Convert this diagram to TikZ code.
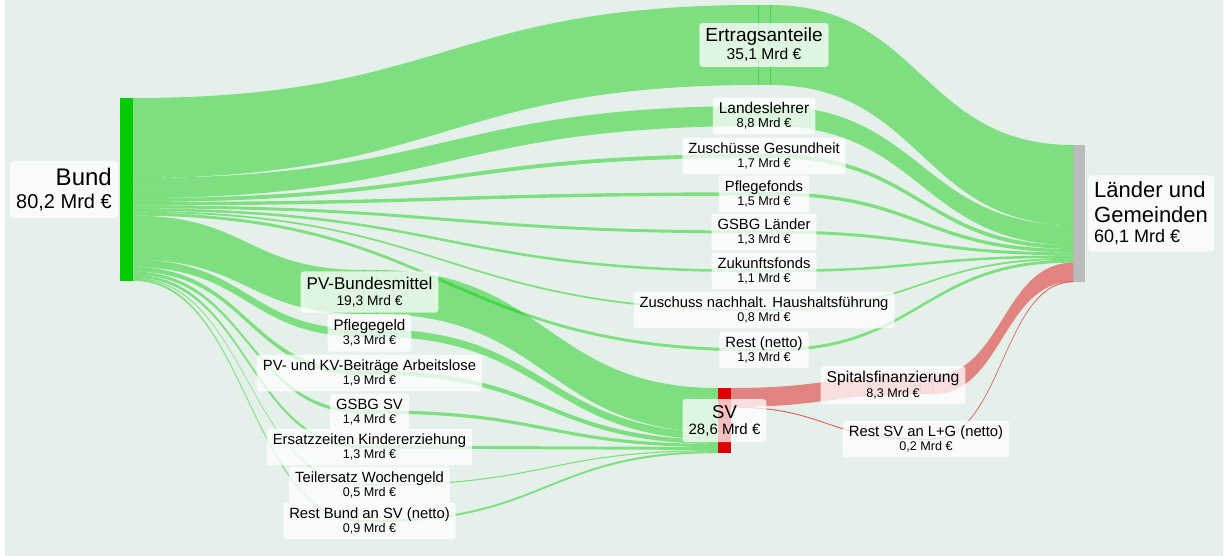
\documentclass[tikz,border=0pt]{standalone}
\usepackage{fontspec}
\setmainfont{Liberation Sans}
\usetikzlibrary{calc}
\definecolor{bgcol}{HTML}{E6F0EA}
\definecolor{bundgreen}{HTML}{00CC00}
\definecolor{svred}{HTML}{DD0000}
\definecolor{lggrey}{HTML}{BBBBBB}
\def\mrd{2.28}% px per Mrd
\tikzset{
  bar/.style={rectangle, inner sep=0pt, outer sep=0pt, minimum width=13pt},
  via/.style={rectangle, inner sep=0pt, outer sep=0pt, minimum width=12pt, fill opacity=.45},
  viaedge/.style={draw opacity=.45, line width=.6pt},
  gflow/.style={fill=bundgreen, fill opacity=.45},
  rflow/.style={fill=svred, fill opacity=.45},
  thinflow/.style={draw=svred, draw opacity=.45, line width=.5pt},
  lab/.style={fill=white, fill opacity=.75, text opacity=1, rounded corners=3pt,
    inner xsep=6pt, inner ysep=5pt, align=center, font=\fontsize{12.6}{14.5}\selectfont},
}
% source, offset at source, target, offset at target, value, style
\newcommand{\flow}[6]{%
  \path ($(#1.north east)+(0,#2*\mrd)$) coordinate (f0)
        ($(#3.north west)+(0,#4*\mrd)$) coordinate (f1)
        ($(f0)!.5!(f1)$) coordinate (fm)
        ($(f0)+(0,#5*\mrd)$) coordinate (g0)
        ($(f1)+(0,#5*\mrd)$) coordinate (g1);
  \fill[#6] (f0) .. controls (fm|-f0) and (fm|-f1) .. (f1) -- (g1)
    .. controls (fm|-g1) and (fm|-g0) .. (g0) -- cycle;}
\newcommand{\nv}[3][14.8]{{\fontsize{#1}{#1}\selectfont #2}\\#3}
\begin{document}
\begin{tikzpicture}[x=1pt, y=-1pt]
  \useasboundingbox (0,0) rectangle (1231,556);
  \fill[bgcol] (5,0) rectangle (1223,556);

  % main nodes
  \node[bar, fill=bundgreen, anchor=north west, minimum height={80.2*\mrd*1pt}] (bund) at (120,98) {};
  \node[bar, fill=lggrey, minimum width=12pt, anchor=north west, minimum height={60.1*\mrd*1pt}] (laender) at (1073,145) {};
  \node[bar, fill=svred, anchor=north west, minimum height={28.6*\mrd*1pt}] (sv) at (718,388) {};

  % pass-through nodes, Länder side
  \node[via, fill=bundgreen, anchor=west, minimum height={35.1*\mrd*1pt}] (ertrag) at (758,45) {};
  \node[via, fill=bundgreen, anchor=west, minimum height={8.8*\mrd*1pt}] (lehrer) at (758,116) {};
  \node[via, fill=bundgreen, anchor=west, minimum height={1.7*\mrd*1pt}] (gesund) at (758,156) {};
  \node[via, fill=bundgreen, anchor=west, minimum height={1.5*\mrd*1pt}] (pfonds) at (758,194) {};
  \node[via, fill=bundgreen, anchor=west, minimum height={1.3*\mrd*1pt}] (gsbgl) at (758,232) {};
  \node[via, fill=bundgreen, anchor=west, minimum height={1.1*\mrd*1pt}] (zfonds) at (758,271) {};
  \node[via, fill=bundgreen, anchor=west, minimum height={0.8*\mrd*1pt}] (hhf) at (758,310) {};
  \node[via, fill=bundgreen, anchor=west, minimum height={1.3*\mrd*1pt}] (restl) at (758,350) {};

  % pass-through nodes, SV side
  \node[via, fill=bundgreen, minimum width=13pt, anchor=west, minimum height={19.3*\mrd*1pt}] (pvb) at (363,292) {};
  \node[via, fill=bundgreen, minimum width=13pt, anchor=west, minimum height={3.3*\mrd*1pt}] (pgeld) at (363,333) {};
  \node[via, fill=bundgreen, minimum width=13pt, anchor=west, minimum height={1.9*\mrd*1pt}] (pvkv) at (363,373) {};
  \node[via, fill=bundgreen, minimum width=13pt, anchor=west, minimum height={1.4*\mrd*1pt}] (gsbgsv) at (363,412) {};
  \node[via, fill=bundgreen, minimum width=13pt, anchor=west, minimum height={1.3*\mrd*1pt}] (ersatz) at (363,447) {};
  \node[via, fill=bundgreen, minimum width=13pt, anchor=west, minimum height={0.5*\mrd*1pt}] (wgeld) at (363,485) {};
  \node[via, fill=bundgreen, minimum width=13pt, anchor=west, minimum height={0.9*\mrd*1pt}] (restb) at (363,521) {};

  % SV to Länder
  \node[via, fill=svred, anchor=west, minimum height={8.3*\mrd*1pt}] (spital) at (920,385) {};
  \node[via, fill=svred, anchor=west, minimum height={0.2*\mrd*1pt}] (restsv) at (920,439) {};

  \foreach \n in {ertrag,lehrer,gesund,pfonds,gsbgl,zfonds,hhf,restl,pvb,pgeld,pvkv,gsbgsv,ersatz,wgeld,restb}
    \draw[viaedge, bundgreen] (\n.north west) -- (\n.south west) (\n.north east) -- (\n.south east);
  \foreach \n in {spital,restsv}
    \draw[viaedge, svred] (\n.north west) -- (\n.south west) (\n.north east) -- (\n.south east);

  % Bund
  \flow{bund}{0}{ertrag}{0}{35.1}{gflow}
  \flow{bund}{35.1}{lehrer}{0}{8.8}{gflow}
  \flow{bund}{43.9}{gesund}{0}{1.7}{gflow}
  \flow{bund}{45.6}{pfonds}{0}{1.5}{gflow}
  \flow{bund}{47.1}{gsbgl}{0}{1.3}{gflow}
  \flow{bund}{48.4}{zfonds}{0}{1.1}{gflow}
  \flow{bund}{49.5}{hhf}{0}{0.8}{gflow}
  \flow{bund}{50.3}{restl}{0}{1.3}{gflow}
  \flow{bund}{51.6}{pvb}{0}{19.3}{gflow}
  \flow{bund}{70.9}{pgeld}{0}{3.3}{gflow}
  \flow{bund}{74.2}{pvkv}{0}{1.9}{gflow}
  \flow{bund}{76.1}{gsbgsv}{0}{1.4}{gflow}
  \flow{bund}{77.5}{ersatz}{0}{1.3}{gflow}
  \flow{bund}{78.8}{wgeld}{0}{0.5}{gflow}
  \flow{bund}{79.3}{restb}{0}{0.9}{gflow}
  % into Länder
  \flow{ertrag}{0}{laender}{0}{35.1}{gflow}
  \flow{lehrer}{0}{laender}{35.1}{8.8}{gflow}
  \flow{gesund}{0}{laender}{43.9}{1.7}{gflow}
  \flow{pfonds}{0}{laender}{45.6}{1.5}{gflow}
  \flow{gsbgl}{0}{laender}{47.1}{1.3}{gflow}
  \flow{zfonds}{0}{laender}{48.4}{1.1}{gflow}
  \flow{hhf}{0}{laender}{49.5}{0.8}{gflow}
  \flow{restl}{0}{laender}{50.3}{1.3}{gflow}
  % into SV
  \flow{pvb}{0}{sv}{0}{19.3}{gflow}
  \flow{pgeld}{0}{sv}{19.3}{3.3}{gflow}
  \flow{pvkv}{0}{sv}{22.6}{1.9}{gflow}
  \flow{gsbgsv}{0}{sv}{24.5}{1.4}{gflow}
  \flow{ersatz}{0}{sv}{25.9}{1.3}{gflow}
  \flow{wgeld}{0}{sv}{27.2}{0.5}{gflow}
  \flow{restb}{0}{sv}{27.7}{0.9}{gflow}
  % out of SV
  \flow{sv}{0}{spital}{0}{8.3}{rflow}
  \flow{sv}{8.3}{restsv}{0}{0.2}{rflow, thinflow}
  \flow{spital}{0}{laender}{51.6}{8.3}{rflow}
  \flow{restsv}{0}{laender}{59.9}{0.2}{rflow, thinflow}

  % labels
  \node[lab, align=right, anchor=east, inner ysep=7pt, font=\fontsize{20}{23}\selectfont] (t-bund)
    at ([xshift=-2pt]bund.west) {\nv[24]{Bund}{80,2 Mrd €}};
  \node[lab, align=left, anchor=west, inner ysep=6.5pt, font=\fontsize{18}{20}\selectfont] (t-laender)
    at ([xshift=3pt]laender.east) {{\fontsize{22}{25}\selectfont Länder und}\\[5pt]{\fontsize{22}{25}\selectfont Gemeinden}\\60,1 Mrd €};
  \node[lab, inner ysep=6pt, font=\fontsize{15}{16}\selectfont] (t-sv) at (sv) {\nv[18.6]{SV}{28,6 Mrd €}};
  \node[lab, font=\fontsize{15.6}{18}\selectfont] (t-ertrag) at (ertrag) {\nv[19]{Ertragsanteile}{35,1 Mrd €}};
  \node[lab, font=\fontsize{13}{14}\selectfont] (t-lehrer) at (lehrer) {\nv[15.5]{Landeslehrer}{8,8 Mrd €}};
  \node[lab] (t-gesund) at (gesund) {\nv{Zuschüsse Gesundheit}{1,7 Mrd €}};
  \node[lab] (t-pfonds) at (pfonds) {\nv{Pflegefonds}{1,5 Mrd €}};
  \node[lab] (t-gsbgl) at (gsbgl) {\nv{GSBG Länder}{1,3 Mrd €}};
  \node[lab] (t-zfonds) at (zfonds) {\nv{Zukunftsfonds}{1,1 Mrd €}};
  \node[lab] (t-hhf) at (hhf) {\nv{Zuschuss nachhalt. Haushaltsführung}{0,8 Mrd €}};
  \node[lab] (t-restl) at (restl) {\nv{Rest (netto)}{1,3 Mrd €}};
  \node[lab, inner ysep=5.5pt, font=\fontsize{13.8}{16}\selectfont] (t-pvb) at (pvb) {\nv[17]{PV-Bundesmittel}{19,3 Mrd €}};
  \node[lab] (t-pgeld) at (pgeld) {\nv[15.2]{Pflegegeld}{3,3 Mrd €}};
  \node[lab] (t-pvkv) at (pvkv) {\nv{PV- und KV-Beiträge Arbeitslose}{1,9 Mrd €}};
  \node[lab] (t-gsbgsv) at (gsbgsv) {\nv{GSBG SV}{1,4 Mrd €}};
  \node[lab] (t-ersatz) at (ersatz) {\nv{Ersatzzeiten Kindererziehung}{1,3 Mrd €}};
  \node[lab] (t-wgeld) at (wgeld) {\nv{Teilersatz Wochengeld}{0,5 Mrd €}};
  \node[lab] (t-restb) at (restb) {\nv{Rest Bund an SV (netto)}{0,9 Mrd €}};
  \node[lab, font=\fontsize{12.6}{15}\selectfont] (t-spital) at ([xshift=-33pt]spital.center) {\nv[15.7]{Spitalsfinanzierung}{8,3 Mrd €}};
  \node[lab] (t-restsv) at (restsv) {\nv{Rest SV an L+G (netto)}{0,2 Mrd €}};
\end{tikzpicture}
\end{document}
